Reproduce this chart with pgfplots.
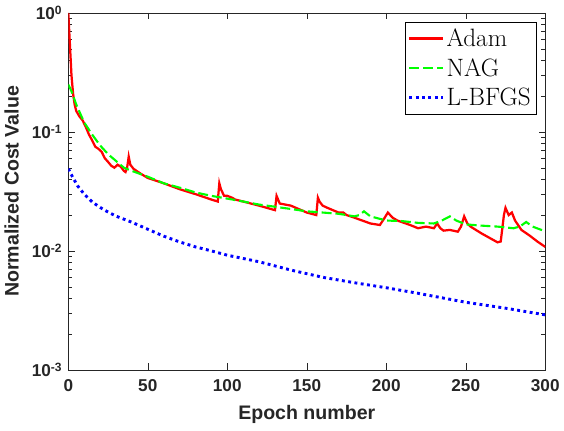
\documentclass[border=0pt]{standalone}
\usepackage{fontspec}
\usepackage{pgfplots}
\pgfplotsset{compat=1.18}
\newfontfamily\arial{Liberation Sans}
\definecolor{axgray}{RGB}{38,38,38}
\begin{document}
\begin{tikzpicture}
\begin{axis}[
    name=ax,
    scale only axis,
    width=360.75pt, height=270pt,
    ymode=log,
    xmin=0, xmax=300,
    ymin=1e-3, ymax=1,
    xtick={0,50,100,150,200,250,300},
    ytick={1e-3,1e-2,1e-1,1},
    yticklabels={10\textsuperscript{-3},10\textsuperscript{-2},10\textsuperscript{-1},10\textsuperscript{0}},
    /pgf/number format/assume math mode=true,
    tick label style={font=\arial\bfseries\fontsize{13}{15}\selectfont, text=axgray},
    xticklabel style={yshift=-4pt},
    yticklabel style={xshift=-1pt},
    label style={font=\arial\bfseries\fontsize{14.8}{17}\selectfont, text=axgray},
    xlabel={Epoch number},
    ylabel={Normalized Cost Value},
    ylabel style={yshift=3pt},
    xlabel style={yshift=-3pt},
    axis line style={axgray},
    tick style={axgray},
    major tick length=5pt,
    minor tick length=3pt,
    legend style={at={(0.981,0.975)}, anchor=north east, draw=black,
        font=\fontsize{19}{24}\selectfont, inner xsep=2pt, inner ysep=3pt, row sep=3.5pt},
    legend cell align=left,
    legend image code/.code={\draw[#1] (0pt,0pt) -- (25pt,0pt);},
]
% Adam
\addplot[red, line width=1.7pt] coordinates {
(0,1) (1,0.55) (2,0.3) (3,0.21) (4,0.17) (5,0.15) (7,0.135) (9,0.125)
(11,0.11) (13,0.095) (15,0.085) (17,0.075) (19,0.072) (21,0.068) (23,0.06)
(25,0.056) (27,0.052) (29,0.05) (31,0.053) (33,0.051) (35,0.047) (36,0.046)
(37,0.05) (38,0.062) (39,0.053) (41,0.049) (45,0.045) (50,0.041) (60,0.037)
(70,0.033) (80,0.03) (90,0.027) (94,0.026) (95,0.037) (96,0.033) (98,0.029)
(100,0.029) (103,0.028) (105,0.027) (110,0.026) (120,0.024) (130,0.022)
(131,0.029) (133,0.025) (140,0.024) (150,0.021) (156,0.02) (157,0.028)
(158,0.026) (160,0.024) (163,0.023) (170,0.021) (173,0.021) (175,0.02)
(180,0.019) (190,0.017) (196,0.0165) (199,0.019) (201,0.021) (204,0.019)
(207,0.018) (215,0.0165) (220,0.0155) (225,0.016) (230,0.0155) (232,0.017)
(234,0.0155) (236,0.0148) (240,0.015) (245,0.0145) (247,0.016) (249,0.0195)
(251,0.017) (253,0.016) (260,0.014) (270,0.0118) (272,0.012) (274,0.02)
(275,0.023) (277,0.02) (279,0.021) (281,0.018) (285,0.015) (290,0.0135)
(295,0.012) (300,0.0108)
};
\addlegendentry{Adam}
% NAG
\addplot[green, line width=1.6pt, dash pattern=on 7.5pt off 3pt] coordinates {
(0,0.25) (2,0.22) (5,0.17) (10,0.12) (15,0.095) (20,0.077) (25,0.065)
(30,0.057) (35,0.05) (40,0.047) (50,0.042) (60,0.037) (70,0.034) (80,0.031)
(90,0.029) (100,0.0275) (110,0.026) (120,0.0245) (130,0.0235) (140,0.0225)
(150,0.0215) (160,0.021) (170,0.0205) (175,0.02) (180,0.0195) (183,0.02)
(186,0.0215) (190,0.0195) (200,0.018) (210,0.0178) (220,0.0172) (230,0.017)
(235,0.018) (240,0.0195) (244,0.018) (250,0.0167) (260,0.0163) (270,0.016)
(280,0.0155) (284,0.016) (288,0.0175) (292,0.016) (300,0.0146)
};
\addlegendentry{NAG}
% L-BFGS
\addplot[blue, line width=2.2pt, dash pattern=on 2.2pt off 2.6pt] coordinates {
(0,0.049) (3,0.041) (6,0.035) (10,0.030) (15,0.0258) (20,0.0232) (25,0.0212)
(30,0.0196) (40,0.0174) (50,0.0152) (60,0.0133) (70,0.0119) (80,0.0108)
(90,0.0100) (100,0.0092) (120,0.0081) (140,0.0069) (160,0.006) (180,0.0054)
(200,0.0049) (220,0.0044) (250,0.0037) (275,0.0033) (300,0.0029)
};
\addlegendentry{L-BFGS}
\end{axis}
\path[use as bounding box] ([xshift=-51pt,yshift=-45.75pt]ax.south west) rectangle ([xshift=11.25pt,yshift=9.75pt]ax.north east);
\end{tikzpicture}
\end{document}
